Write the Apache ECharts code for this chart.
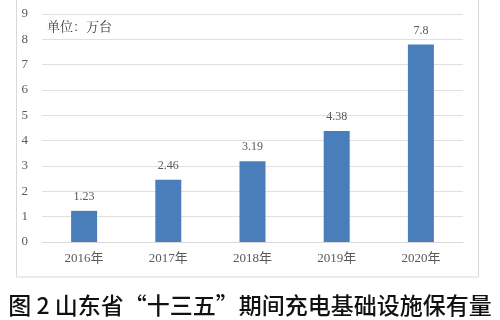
<!DOCTYPE html>
<html><head><meta charset="utf-8">
<script src="https://cdn.jsdelivr.net/npm/echarts@6/dist/echarts.min.js"></script>
<style>html,body{margin:0;padding:0;background:#fff}#c{width:500px;height:320px}</style>
</head><body><div id="c"></div>
<script>
const categories = ['2016年','2017年','2018年','2019年','2020年'];
const values = [1.23, 2.46, 3.19, 4.38, 7.8];
const yTicks = [0,1,2,3,4,5,6,7,8,9];
const unitText = '单位：万台';
const captionText = '图 2 山东省“十三五”期间充电基础设施保有量';

const chart = echarts.init(document.getElementById('c'), null, {renderer:'canvas'});
chart.setOption({
  animation:false,
  backgroundColor:'#fff',
  title:{
    text: captionText, left:'center', top:289,
    textStyle:{fontFamily:'Noto Sans CJK SC', fontSize:23, fontWeight:500, color:'#111'}
  },
  graphic:[
    {type:'rect', shape:{x:16.5,y:-1,width:462,height:278}, style:{fill:'none', stroke:'#d9d9d9', lineWidth:1}, z:-1},
    {type:'text', left:47, top:20, style:{text:unitText, fontFamily:'Noto Serif CJK SC, Noto Sans CJK SC', fontSize:13, fill:'#404040'}}
  ],
  grid:{left:42, right:37, top:14, bottom:78, containLabel:false},
  xAxis:{
    type:'category', data:categories,
    axisLine:{show:true, lineStyle:{color:'#d9d9d9'}},
    axisTick:{show:false},
    axisLabel:{color:'#595959', fontFamily:'Liberation Serif, Noto Sans CJK SC', fontSize:13, margin:10}
  },
  yAxis:{
    type:'value', min:yTicks[0], max:yTicks[yTicks.length-1], interval:1,
    axisLine:{show:false}, axisTick:{show:false},
    splitLine:{lineStyle:{color:'#e0e0e0'}},
    axisLabel:{color:'#595959', fontFamily:'Liberation Serif', fontSize:13, margin:14}
  },
  series:[{
    type:'bar', data:values, barWidth:26,
    itemStyle:{color:'#4a7ebb'},
    label:{show:true, position:'top', distance:8, color:'#595959', fontFamily:'Liberation Serif', fontSize:12}
  }]
});
</script></body></html>
